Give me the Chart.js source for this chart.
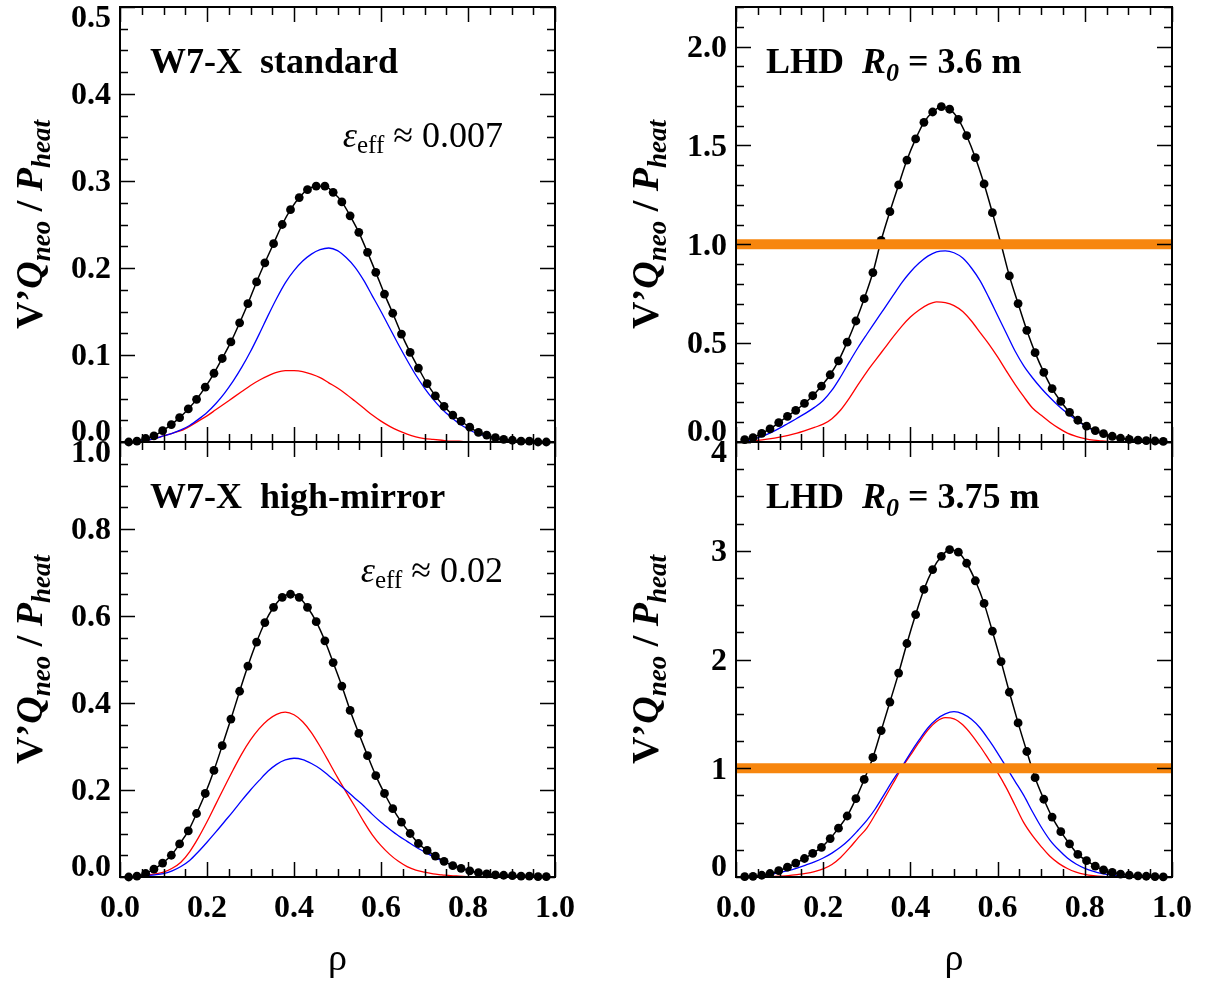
<!DOCTYPE html>
<html>
<head>
<meta charset="utf-8">
<script src="https://cdn.jsdelivr.net/npm/chart.js@4.4.0/dist/chart.umd.min.js"></script>
<style>
  html, body { margin: 0; padding: 0; background: #fff; }
  #wrap { position: relative; width: 1210px; height: 986px; }
  #wrap canvas { position: absolute; left: 0; top: 0; }
  #fontwarm { position: absolute; left: -9999px; top: 0; font-family: "Liberation Serif"; }
</style>
</head>
<body>
<div id="fontwarm"><b>0.5</b> <i>Q</i> <b><i>neo</i></b> &#961; &#949; &#8776;</div>
<div id="wrap">
  <canvas id="tl" width="1210" height="986"></canvas>
  <canvas id="tr" width="1210" height="986"></canvas>
  <canvas id="bl" width="1210" height="986"></canvas>
  <canvas id="br" width="1210" height="986"></canvas>
</div>
<script>
// radial positions of the black markers, and of the blue / red curves
const rhoDots = [0.020, 0.039, 0.059, 0.078, 0.098, 0.118, 0.137, 0.157, 0.176, 0.196,
  0.216, 0.235, 0.255, 0.275, 0.294, 0.314, 0.333, 0.353, 0.373, 0.392,
  0.412, 0.431, 0.451, 0.471, 0.490, 0.510, 0.529, 0.549, 0.569, 0.588,
  0.608, 0.627, 0.647, 0.667, 0.686, 0.706, 0.725, 0.745, 0.765, 0.784,
  0.804, 0.824, 0.843, 0.863, 0.882, 0.902, 0.922, 0.941, 0.961, 0.980];
const rhoLine = [0.00, 0.02, 0.04, 0.06, 0.08, 0.10, 0.12, 0.14, 0.16, 0.18,
  0.20, 0.22, 0.24, 0.26, 0.28, 0.30, 0.32, 0.34, 0.36, 0.38,
  0.40, 0.42, 0.44, 0.46, 0.48, 0.50, 0.52, 0.54, 0.56, 0.58,
  0.60, 0.62, 0.64, 0.66, 0.68, 0.70, 0.72, 0.74, 0.76, 0.78,
  0.80, 0.82, 0.84, 0.86, 0.88, 0.90, 0.92, 0.94, 0.96, 0.98, 1.00];

// W7-X standard
const w7sTotal = [0.000, 0.001, 0.004, 0.007, 0.013, 0.020, 0.028, 0.038, 0.049, 0.063,
  0.079, 0.096, 0.115, 0.137, 0.159, 0.184, 0.206, 0.228, 0.250, 0.267,
  0.281, 0.290, 0.294, 0.294, 0.287, 0.276, 0.260, 0.241, 0.218, 0.195,
  0.170, 0.148, 0.124, 0.103, 0.085, 0.067, 0.053, 0.041, 0.031, 0.024,
  0.017, 0.011, 0.008, 0.005, 0.003, 0.002, 0.001, 0.001, 0.000, 0.000];
const w7sBlue = [0, 0, 0.001, 0.002, 0.004, 0.007, 0.010, 0.014, 0.019, 0.026,
  0.034, 0.044, 0.056, 0.070, 0.086, 0.104, 0.124, 0.145, 0.165, 0.183,
  0.197, 0.208, 0.216, 0.221, 0.223, 0.220, 0.212, 0.201, 0.186, 0.168,
  0.150, 0.131, 0.112, 0.094, 0.077, 0.062, 0.049, 0.038, 0.029, 0.021,
  0.015, 0.010, 0.007, 0.004, 0.003, 0.002, 0.001, 0, 0, 0, 0];
const w7sRed = [0, 0, 0.001, 0.002, 0.004, 0.007, 0.010, 0.013, 0.018, 0.024,
  0.030, 0.037, 0.044, 0.051, 0.058, 0.065, 0.071, 0.076, 0.080, 0.082,
  0.082, 0.081, 0.078, 0.074, 0.068, 0.062, 0.055, 0.047, 0.039, 0.031,
  0.024, 0.018, 0.013, 0.009, 0.006, 0.004, 0.003, 0.002, 0.001, 0.001,
  0, 0, 0, 0, 0, 0, 0, 0, 0, 0, 0];

// W7-X high-mirror
const w7hTotal = [0.000, 0.002, 0.008, 0.018, 0.032, 0.050, 0.076, 0.106, 0.146, 0.192,
  0.245, 0.302, 0.363, 0.427, 0.485, 0.540, 0.585, 0.620, 0.643, 0.650,
  0.643, 0.620, 0.587, 0.543, 0.493, 0.439, 0.383, 0.330, 0.279, 0.233,
  0.192, 0.157, 0.126, 0.100, 0.077, 0.061, 0.048, 0.036, 0.026, 0.020,
  0.014, 0.010, 0.007, 0.005, 0.004, 0.003, 0.002, 0.002, 0.001, 0.001];
const w7hBlue = [0, 0, 0.001, 0.003, 0.005, 0.008, 0.014, 0.024, 0.038, 0.058,
  0.080, 0.103, 0.127, 0.151, 0.176, 0.200, 0.222, 0.243, 0.259, 0.269,
  0.273, 0.270, 0.261, 0.249, 0.233, 0.216, 0.199, 0.181, 0.164, 0.144,
  0.126, 0.110, 0.095, 0.082, 0.069, 0.058, 0.047, 0.037, 0.029, 0.022,
  0.016, 0.011, 0.008, 0.005, 0.004, 0.003, 0.002, 0.001, 0.001, 0, 0];
const w7hRed = [0, 0, 0.002, 0.004, 0.007, 0.011, 0.020, 0.034, 0.058, 0.090,
  0.127, 0.167, 0.207, 0.246, 0.283, 0.315, 0.341, 0.361, 0.374, 0.379,
  0.373, 0.357, 0.332, 0.300, 0.265, 0.229, 0.195, 0.162, 0.128, 0.097,
  0.072, 0.052, 0.036, 0.024, 0.016, 0.011, 0.007, 0.005, 0.003, 0.002,
  0.001, 0, 0, 0, 0, 0, 0, 0, 0, 0, 0];

// LHD R0 = 3.6 m
const lhd36Total = [0.012, 0.022, 0.044, 0.066, 0.098, 0.130, 0.160, 0.195, 0.234, 0.283,
  0.340, 0.410, 0.505, 0.612, 0.725, 0.857, 1.020, 1.165, 1.300, 1.426,
  1.533, 1.617, 1.669, 1.696, 1.683, 1.632, 1.549, 1.438, 1.305, 1.160,
  1.000, 0.840, 0.700, 0.565, 0.452, 0.352, 0.270, 0.205, 0.150, 0.110,
  0.080, 0.058, 0.042, 0.029, 0.019, 0.013, 0.009, 0.007, 0.005, 0.003];
const lhd36Blue = [0, 0.003, 0.014, 0.028, 0.047, 0.070, 0.095, 0.120, 0.146, 0.175,
  0.210, 0.262, 0.330, 0.405, 0.478, 0.545, 0.610, 0.675, 0.740, 0.805,
  0.860, 0.905, 0.940, 0.962, 0.967, 0.957, 0.930, 0.880, 0.815, 0.730,
  0.640, 0.550, 0.460, 0.385, 0.325, 0.272, 0.225, 0.182, 0.145, 0.112,
  0.083, 0.058, 0.042, 0.030, 0.020, 0.013, 0.008, 0.005, 0.003, 0.001, 0];
const lhd36Red = [0, 0.002, 0.006, 0.011, 0.017, 0.025, 0.034, 0.045, 0.059, 0.074,
  0.090, 0.118, 0.162, 0.222, 0.290, 0.355, 0.414, 0.472, 0.530, 0.585,
  0.632, 0.668, 0.695, 0.709, 0.705, 0.690, 0.660, 0.612, 0.553, 0.495,
  0.430, 0.360, 0.292, 0.229, 0.172, 0.135, 0.100, 0.070, 0.045, 0.029,
  0.017, 0.009, 0.005, 0.002, 0.001, 0, 0, 0, 0, 0, 0];

// LHD R0 = 3.75 m
const lhd375Total = [0.003, 0.006, 0.016, 0.032, 0.058, 0.090, 0.128, 0.170, 0.218, 0.272,
  0.353, 0.449, 0.561, 0.721, 0.897, 1.099, 1.346, 1.609, 1.875, 2.147,
  2.413, 2.644, 2.827, 2.949, 3.010, 2.987, 2.885, 2.724, 2.516, 2.260,
  1.981, 1.699, 1.417, 1.154, 0.913, 0.715, 0.551, 0.417, 0.304, 0.208,
  0.150, 0.100, 0.065, 0.042, 0.027, 0.017, 0.011, 0.007, 0.004, 0.002];
const lhd375Blue = [0, 0.001, 0.005, 0.012, 0.025, 0.040, 0.058, 0.082, 0.110, 0.140,
  0.175, 0.220, 0.275, 0.345, 0.430, 0.520, 0.630, 0.760, 0.890, 1.010,
  1.140, 1.260, 1.370, 1.450, 1.500, 1.520, 1.500, 1.450, 1.370, 1.260,
  1.140, 1.010, 0.880, 0.750, 0.600, 0.460, 0.340, 0.250, 0.175, 0.120,
  0.080, 0.052, 0.032, 0.019, 0.011, 0.006, 0.003, 0.001, 0, 0, 0];
const lhd375Red = [0, 0, 0.001, 0.002, 0.004, 0.008, 0.013, 0.022, 0.033, 0.050,
  0.075, 0.115, 0.180, 0.265, 0.360, 0.450, 0.580, 0.720, 0.860, 1.000,
  1.120, 1.240, 1.350, 1.430, 1.465, 1.455, 1.400, 1.310, 1.200, 1.080,
  0.960, 0.820, 0.660, 0.500, 0.380, 0.280, 0.190, 0.125, 0.078, 0.045,
  0.024, 0.012, 0.005, 0.002, 0.001, 0, 0, 0, 0, 0, 0];

// the thick orange reference line in the LHD panels
const refRho = [0, 1];
const refLevel = [1, 1];

// tick labels
const xTickLabels = ['0.0', '0.2', '0.4', '0.6', '0.8', '1.0'];
const yTicksW7s = ['0.0', '0.1', '0.2', '0.3', '0.4', '0.5'];
const yTicksW7h = ['0.0', '0.2', '0.4', '0.6', '0.8', '1.0'];
const yTicksLhd36 = ['0.0', '0.5', '1.0', '1.5', '2.0'];
const yTicksLhd375 = ['0', '1', '2', '3', '4'];

const SERIF = '"Liberation Serif", "DejaVu Serif", serif';
const ORANGE = '#f7860e';

function pts(xs, ys) {
  return xs.map((x, i) => ({ x: x, y: ys[i] }));
}

// draws a run of text pieces with their own fonts / baseline shifts
function drawRich(ctx, segs, x, y, align) {
  let w = 0;
  segs.forEach(s => { ctx.font = s.f; s.w = ctx.measureText(s.t).width; w += s.w; });
  let cx = align === 'center' ? x - w / 2 : align === 'right' ? x - w : x;
  ctx.textAlign = 'left';
  ctx.textBaseline = 'alphabetic';
  segs.forEach(s => { ctx.font = s.f; ctx.fillText(s.t, cx, y + (s.dy || 0)); cx += s.w; });
}

const yTitle = [
  { t: 'V\u2019', f: 'bold 38px ' + SERIF },
  { t: 'Q', f: 'italic bold 38px ' + SERIF },
  { t: 'neo', f: 'italic bold 27px ' + SERIF, dy: 8 },
  { t: ' / ', f: 'bold 38px ' + SERIF },
  { t: 'P', f: 'italic bold 38px ' + SERIF },
  { t: 'heat', f: 'italic bold 27px ' + SERIF, dy: 8 },
];

function framePlugin(p) {
  return {
    id: 'frame_' + p.id,
    afterDatasetsDraw(chart) {
      const ctx = chart.ctx;
      const a = chart.chartArea;
      const xs = chart.scales.x, ys = chart.scales.y;
      ctx.save();
      ctx.strokeStyle = '#000';
      ctx.lineWidth = 1.5;
      // inward ticks, all four sides
      const nx = Math.round(1 / 0.05);
      for (let i = 0; i <= nx; i++) {
        const v = i * 0.05;
        const len = (i % 4 === 0) ? 15 : 8;
        const px = Math.round(xs.getPixelForValue(v)) + 0.5;
        ctx.beginPath();
        ctx.moveTo(px, a.bottom); ctx.lineTo(px, a.bottom - len);
        ctx.moveTo(px, a.top); ctx.lineTo(px, a.top + len);
        ctx.stroke();
      }
      const ny = Math.round(p.yMax / p.yMinor);
      const per = Math.round(p.yMajor / p.yMinor);
      for (let i = 0; i <= ny; i++) {
        const v = i * p.yMinor;
        const len = (i % per === 0) ? 15 : 8;
        const py = Math.round(ys.getPixelForValue(v)) + 0.5;
        ctx.beginPath();
        ctx.moveTo(a.left, py); ctx.lineTo(a.left + len, py);
        ctx.moveTo(a.right, py); ctx.lineTo(a.right - len, py);
        ctx.stroke();
      }
      ctx.lineWidth = 2;
      ctx.strokeRect(a.left, a.top, a.right - a.left, a.bottom - a.top);
      ctx.restore();
    },
    afterDraw(chart) {
      const ctx = chart.ctx;
      const a = chart.chartArea;
      const xs = chart.scales.x, ys = chart.scales.y;
      ctx.save();
      ctx.fillStyle = '#000';
      // y tick labels (end labels pulled inside like the original)
      ctx.font = 'bold 32px ' + SERIF;
      ctx.textAlign = 'right';
      ctx.textBaseline = 'middle';
      p.yLabels.forEach(lab => {
        const v = parseFloat(lab);
        let py = ys.getPixelForValue(v) + 2;
        if (v === 0) py -= 11;
        if (Math.abs(v - p.yMax) < 1e-9) py += 10;
        ctx.fillText(lab, a.left - 9, py);
      });
      if (p.showX) {
        ctx.textAlign = 'center';
        xTickLabels.forEach(lab => {
          ctx.fillText(lab, xs.getPixelForValue(parseFloat(lab)), a.bottom + 32);
        });
        ctx.font = '38px ' + SERIF;
        ctx.textBaseline = 'alphabetic';
        ctx.fillText('\u03c1', (a.left + a.right) / 2, a.bottom + 93);
      }
      // rotated axis title
      ctx.save();
      ctx.translate(a.left - 78, (a.top + a.bottom) / 2);
      ctx.rotate(-Math.PI / 2);
      drawRich(ctx, yTitle, 0, 0, 'center');
      ctx.restore();
      // panel annotation
      drawRich(ctx, p.label, a.left + 30, a.top + 66, 'left');
      if (p.eps) drawRich(ctx, p.eps, a.left + 383, a.top + 140, 'right');
      ctx.restore();
    }
  };
}

const panels = [
  { id: 'tl', box: [120, 7, 555, 442], yMax: 0.5, yMajor: 0.1, yMinor: 0.025, yLabels: yTicksW7s,
    total: w7sTotal, blue: w7sBlue, red: w7sRed, ref: false, showX: false,
    label: [{ t: 'W7-X  standard', f: 'bold 36px ' + SERIF }],
    eps: [{ t: '\u03b5', f: 'italic 36px ' + SERIF }, { t: 'eff', f: '25px ' + SERIF, dy: 6 },
          { t: ' \u2248 0.007', f: '36px ' + SERIF }] },
  { id: 'tr', box: [736, 7, 1172, 442], yMax: 2.2, yMajor: 0.5, yMinor: 0.1, yLabels: yTicksLhd36,
    total: lhd36Total, blue: lhd36Blue, red: lhd36Red, ref: true, showX: false,
    label: [{ t: 'LHD  ', f: 'bold 36px ' + SERIF }, { t: 'R', f: 'italic bold 36px ' + SERIF },
            { t: '0', f: 'italic bold 26px ' + SERIF, dy: 8 }, { t: ' = 3.6 m', f: 'bold 36px ' + SERIF }] },
  { id: 'bl', box: [120, 442, 555, 877], yMax: 1.0, yMajor: 0.2, yMinor: 0.05, yLabels: yTicksW7h,
    total: w7hTotal, blue: w7hBlue, red: w7hRed, ref: false, showX: true,
    label: [{ t: 'W7-X  high-mirror', f: 'bold 36px ' + SERIF }],
    eps: [{ t: '\u03b5', f: 'italic 36px ' + SERIF }, { t: 'eff', f: '25px ' + SERIF, dy: 6 },
          { t: ' \u2248 0.02', f: '36px ' + SERIF }] },
  { id: 'br', box: [736, 442, 1172, 877], yMax: 4, yMajor: 1, yMinor: 0.25, yLabels: yTicksLhd375,
    total: lhd375Total, blue: lhd375Blue, red: lhd375Red, ref: true, showX: true,
    label: [{ t: 'LHD  ', f: 'bold 36px ' + SERIF }, { t: 'R', f: 'italic bold 36px ' + SERIF },
            { t: '0', f: 'italic bold 26px ' + SERIF, dy: 8 }, { t: ' = 3.75 m', f: 'bold 36px ' + SERIF }] },
];

const charts = [];

panels.forEach(p => {
  const datasets = [
    { data: pts(rhoDots, p.total), borderColor: '#000', borderWidth: 1.5, pointRadius: 4.4,
      pointBackgroundColor: '#000', pointBorderWidth: 0, cubicInterpolationMode: 'monotone',
      clip: false, order: 1 },
    { data: pts(rhoLine, p.blue), borderColor: '#0000ff', borderWidth: 1.3, pointRadius: 0,
      cubicInterpolationMode: 'monotone', order: 2 },
    { data: pts(rhoLine, p.red), borderColor: '#ff0000', borderWidth: 1.3, pointRadius: 0,
      cubicInterpolationMode: 'monotone', order: 3 },
  ];
  if (p.ref) {
    datasets.push({ data: pts(refRho, refLevel), borderColor: ORANGE, borderWidth: 10,
      borderCapStyle: 'butt', pointRadius: 0, order: 0 });
  }
  const [l, t, r, b] = p.box;
  charts.push(new Chart(document.getElementById(p.id), {
    type: 'line',
    data: { datasets: datasets },
    options: {
      responsive: false,
      animation: false,
      devicePixelRatio: 1,
      events: [],
      layout: { padding: { left: l, top: t, right: 1210 - r, bottom: 986 - b } },
      scales: {
        x: { type: 'linear', min: 0, max: 1, display: false },
        y: { type: 'linear', min: 0, max: p.yMax, display: false },
      },
      plugins: { legend: { display: false }, tooltip: { enabled: false } },
    },
    plugins: [framePlugin(p)],
  }));
});

// redraw once the serif faces are surely available to the canvas
Promise.all([
  document.fonts.load('bold 32px "Liberation Serif"'),
  document.fonts.load('italic bold 32px "Liberation Serif"'),
  document.fonts.load('italic 32px "Liberation Serif"'),
  document.fonts.load('32px "Liberation Serif"'),
]).then(() => charts.forEach(c => c.render())).catch(() => {});
</script>
</body>
</html>
